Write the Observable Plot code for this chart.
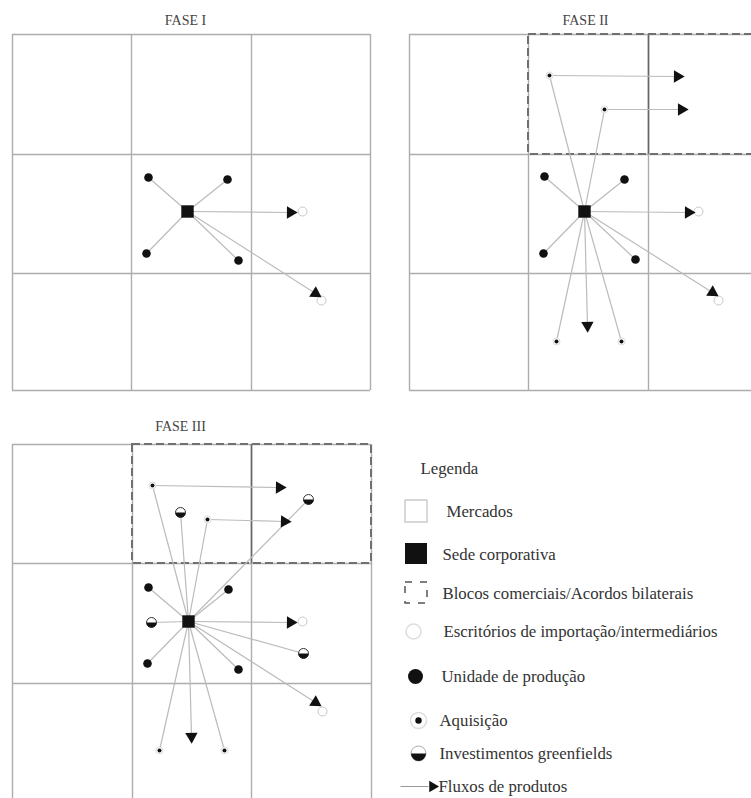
<!DOCTYPE html>
<html><head><meta charset="utf-8">
<script src="https://cdn.jsdelivr.net/npm/d3@7"></script>
<script src="https://cdn.jsdelivr.net/npm/@observablehq/plot@0.6"></script>
<style>body{margin:0;background:#fff;overflow:hidden}</style>
</head><body><div id="chart"></div>
<script>
// ---------- data ----------
const panelTitles = ["FASE I", "FASE II", "FASE III"];
const titleX = [185, 585, 180];
const titleY = [20, 20, 426];
// market grid lines per panel
const gridXs = [[12, 131, 251, 370], [409, 528, 648, 767], [12, 132, 251, 371]];
const gridYs = [[34, 154, 273, 390], [34, 154, 273, 390], [444, 563, 683, 802]];
// trade blocs (dashed) per panel
const blocPanels = [1, 2];
const blocX1 = [528, 132], blocX2 = [767, 371], blocY1 = [34, 444], blocY2 = [154, 563];
const blocDivider = [648, 251];
// corporate headquarters
const hqX = [187, 584, 188];
const hqY = [211, 211, 621];
// production units
const prodPanel = [0, 0, 0, 0, 1, 1, 1, 1, 2, 2, 2, 2];
const prodX = [148, 227, 146, 238, 544, 624, 543, 635, 148, 228, 147, 238];
const prodY = [177, 179, 253, 260, 176, 179, 253, 259, 587, 589, 663, 669];
// acquisitions
const acqPanel = [1, 1, 1, 1, 2, 2, 2, 2];
const acqX = [549, 604, 556, 621, 152, 207, 159, 224];
const acqY = [75, 109, 341, 341, 485, 519, 750, 750];
// greenfield investments
const greenPanel = [2, 2, 2, 2];
const greenX = [180, 308, 151, 303];
const greenY = [512, 499, 622, 653];
// import offices / intermediaries
const officeX = [302, 321, 698, 718, 302, 322];
const officeY = [211, 300, 211, 300, 621, 711];
// product flows: from (x1,y1) to arrow tip (x2,y2)
const flowX1 = [187, 187, 584, 584, 584, 549, 604, 188, 188, 188, 152, 207];
const flowY1 = [211, 211, 211, 211, 211, 75, 109, 621, 621, 621, 485, 519];
const flowX2 = [290, 315, 688, 712, 587, 677, 681, 290, 315, 191, 279, 284];
const flowY2 = [212, 293, 212, 292, 325, 76, 109, 622, 702, 736, 487, 521];
// legend
const legendTitle = "Legenda";
const legendLabels = ["Mercados", "Sede corporativa", "Blocos comerciais/Acordos bilaterais",
  "Escritórios de importação/intermediários", "Unidade de produção", "Aquisição",
  "Investimentos greenfields", "Fluxos de produtos"];
const legendTextX = [446, 442, 442, 443, 441, 439, 439, 438];
const legendY = [511, 554, 593, 631, 676, 720, 753, 786];
const legendSymX = [416, 416, 416, 413, 415, 418, 418, 432];

// ---------- derived tables ----------
const vLines = gridXs.flatMap((xs, i) => xs.map(x => ({x, y1: gridYs[i][0], y2: gridYs[i][3]})));
const hLines = gridYs.flatMap((ys, i) => ys.map(y => ({y, x1: gridXs[i][0], x2: gridXs[i][3]})));
const blocs = blocPanels.map((p, i) => ({x1: blocX1[i], x2: blocX2[i], y1: blocY1[i], y2: blocY2[i], d: blocDivider[i]}));
const hqs = hqX.map((x, i) => ({x, y: hqY[i]}));
const prods = prodX.map((x, i) => ({x, y: prodY[i], p: prodPanel[i]}));
const acqs = acqX.map((x, i) => ({x, y: acqY[i], p: acqPanel[i]}));
const greens = greenX.map((x, i) => ({x, y: greenY[i], p: greenPanel[i]}));
const offices = officeX.map((x, i) => ({x, y: officeY[i]}));
const flows = flowX1.map((x1, i) => ({x1, y1: flowY1[i], x2: flowX2[i], y2: flowY2[i],
  rot: Math.atan2(flowY2[i] - flowY1[i], flowX2[i] - x1) * 180 / Math.PI + 90}));
const spokes = [...prods, ...acqs, ...greens].map(d => ({x1: hqX[d.p], y1: hqY[d.p], x2: d.x, y2: d.y}));
const titles = panelTitles.map((t, i) => ({t, x: titleX[i], y: titleY[i]}));
const legend = legendLabels.map((t, i) => ({t, x: legendTextX[i], y: legendY[i], sx: legendSymX[i]}));

const halfDisc = {draw(ctx, size) { const r = Math.sqrt(size / Math.PI); ctx.moveTo(r, 0); ctx.arc(0, 0, r, 0, Math.PI); ctx.closePath(); }};
const serif = "'Liberation Serif', 'Times New Roman', serif";
const grey = "#adadad";

const L = (i) => legend[i];
const chart = Plot.plot({
  width: 751, height: 798, margin: 0,
  x: {domain: [0, 751], range: [0, 751], axis: null},
  y: {domain: [0, 798], range: [0, 798], axis: null},
  style: {background: "#fff"},
  marks: [
    // markets grid
    Plot.ruleX(vLines, {x: "x", y1: "y1", y2: "y2", stroke: grey, strokeWidth: 1.4}),
    Plot.ruleY(hLines, {y: "y", x1: "x1", x2: "x2", stroke: grey, strokeWidth: 1.4}),
    // trade blocs
    Plot.ruleX(blocs, {x: "d", y1: "y1", y2: "y2", stroke: "#666", strokeWidth: 1.6}),
    Plot.rect(blocs, {x1: "x1", x2: "x2", y1: "y1", y2: "y2", fill: "none", stroke: "#707070", strokeWidth: 2, strokeDasharray: "8,4"}),
    // spokes and flows
    Plot.link(spokes, {x1: "x1", y1: "y1", x2: "x2", y2: "y2", stroke: "#bbb", strokeWidth: 1.2}),
    Plot.link(flows, {x1: "x1", y1: "y1", x2: "x2", y2: "y2", stroke: "#bbb", strokeWidth: 1.2}),
    // offices
    Plot.dot(offices, {x: "x", y: "y", r: 4.5, fill: "#fff", stroke: "#c8c8c8", strokeWidth: 1}),
    Plot.dot(flows, {x: "x2", y: "y2", symbol: "triangle", r: 4.6, fill: "#111", rotate: "rot"}),
    // production units
    Plot.dot(prods, {x: "x", y: "y", r: 4.3, fill: "#111"}),
    // acquisitions
    Plot.dot(acqs, {x: "x", y: "y", r: 3.5, fill: "#fff", stroke: "#ddd", strokeWidth: 1}),
    Plot.dot(acqs, {x: "x", y: "y", r: 2, fill: "#111"}),
    // greenfields
    Plot.dot(greens, {x: "x", y: "y", r: 5, fill: "#fff", stroke: "#333", strokeWidth: 1}),
    Plot.dot(greens, {x: "x", y: "y", r: 5, symbol: halfDisc, fill: "#111"}),
    // headquarters
    Plot.dot(hqs, {x: "x", y: "y", symbol: "square", r: 7, fill: "#111"}),
    // titles
    Plot.text(titles, {x: "x", y: "y", text: "t", fontSize: 14, fontFamily: serif, fill: "#444"}),
    // legend
    Plot.text([legendTitle], {x: 420, y: 468, text: d => d, textAnchor: "start", fontSize: 16.8, fontFamily: serif, fill: "#333"}),
    Plot.text(legend, {x: "x", y: "y", text: "t", textAnchor: "start", fontSize: 16.8, fontFamily: serif, fill: "#333"}),
    Plot.rect([L(0)], {x1: d => d.sx - 11, x2: d => d.sx + 11, y1: d => d.y - 11, y2: d => d.y + 11, fill: "#fff", stroke: "#ccc", strokeWidth: 1.5}),
    Plot.rect([L(1)], {x1: d => d.sx - 11, x2: d => d.sx + 11, y1: d => d.y - 11, y2: d => d.y + 10, fill: "#111"}),
    Plot.rect([L(2)], {x1: d => d.sx - 11, x2: d => d.sx + 11, y1: d => d.y - 11, y2: d => d.y + 10, fill: "none", stroke: "#555", strokeWidth: 1.5, strokeDasharray: "7,8"}),
    Plot.dot([L(3)], {x: "sx", y: "y", r: 7.5, fill: "#fff", stroke: "#ddd", strokeWidth: 1.5}),
    Plot.dot([L(4)], {x: "sx", y: "y", r: 7.5, fill: "#111"}),
    Plot.dot([L(5)], {x: "sx", y: "y", r: 8, fill: "#fff", stroke: "#ddd", strokeWidth: 1.5}),
    Plot.dot([L(5)], {x: "sx", y: "y", r: 3.2, fill: "#111"}),
    Plot.dot([L(6)], {x: "sx", y: "y", r: 7.5, fill: "#fff", stroke: "#aaa", strokeWidth: 1}),
    Plot.dot([L(6)], {x: "sx", y: "y", r: 7.5, symbol: halfDisc, fill: "#111"}),
    Plot.link([L(7)], {x1: d => d.sx - 32, x2: d => d.sx - 4, y1: "y", y2: "y", stroke: "#999", strokeWidth: 1}),
    Plot.dot([L(7)], {x: "sx", y: "y", symbol: "triangle", r: 4.2, rotate: 90, fill: "#111"})
  ]
});
document.getElementById("chart").append(chart);
</script>
</body></html>
